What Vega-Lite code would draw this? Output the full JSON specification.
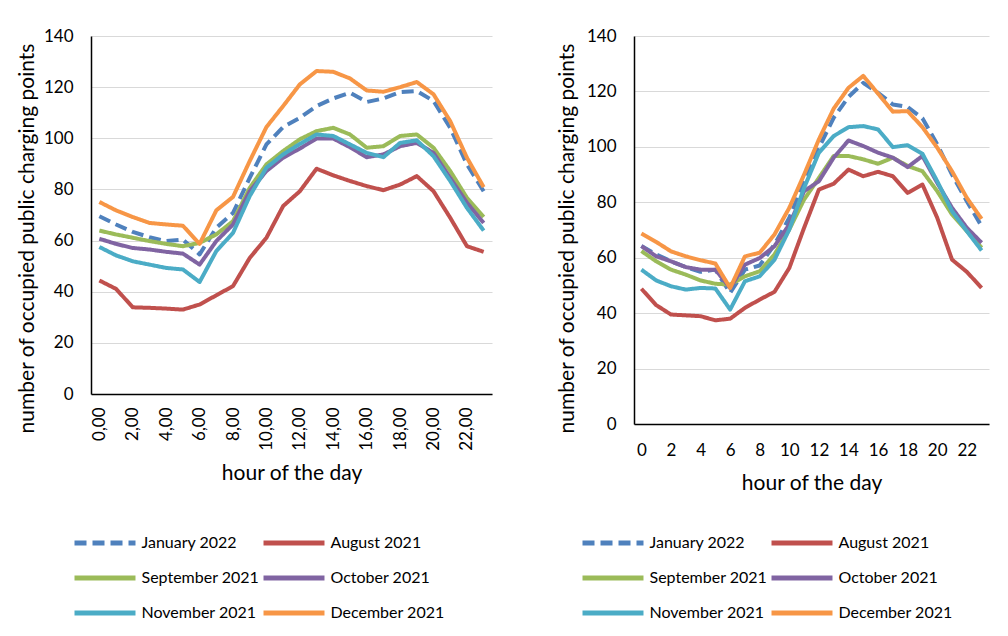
{
"$schema":"https://vega.github.io/schema/vega-lite/v6.json",
"background":"white",
"padding":{"left":16,"top":27,"right":5,"bottom":5},
"config":{"font":"Lato","view":{"stroke":null},
"axis":{"labelFont":"Lato","titleFont":"Lato","labelFontSize":17,"titleFontSize":21,"titleFontWeight":"normal","labelColor":"#000","titleColor":"#000","domainColor":"#000","domainWidth":1.5,"gridColor":"#D9D9D9","gridWidth":1.2,"ticks":false},
"legend":{"labelFont":"Lato","labelFontSize":16,"labelColor":"#000"}},
"datasets":{
"L":[
{"s":"January 2022","h":0,"v":69.5},{"s":"January 2022","h":1,"v":66.3},{"s":"January 2022","h":2,"v":63.4},{"s":"January 2022","h":3,"v":61.3},{"s":"January 2022","h":4,"v":59.8},{"s":"January 2022","h":5,"v":60.4},{"s":"January 2022","h":6,"v":54.6},{"s":"January 2022","h":7,"v":65.0},{"s":"January 2022","h":8,"v":70.8},{"s":"January 2022","h":9,"v":84.5},{"s":"January 2022","h":10,"v":97.6},{"s":"January 2022","h":11,"v":104.4},{"s":"January 2022","h":12,"v":108.0},{"s":"January 2022","h":13,"v":112.6},{"s":"January 2022","h":14,"v":115.6},{"s":"January 2022","h":15,"v":117.8},{"s":"January 2022","h":16,"v":114.2},{"s":"January 2022","h":17,"v":115.6},{"s":"January 2022","h":18,"v":118.1},{"s":"January 2022","h":19,"v":118.5},{"s":"January 2022","h":20,"v":114.6},{"s":"January 2022","h":21,"v":104.1},{"s":"January 2022","h":22,"v":89.8},{"s":"January 2022","h":23,"v":79.3},
{"s":"August 2021","h":0,"v":44.4},{"s":"August 2021","h":1,"v":41.1},{"s":"August 2021","h":2,"v":33.9},{"s":"August 2021","h":3,"v":33.7},{"s":"August 2021","h":4,"v":33.4},{"s":"August 2021","h":5,"v":33.0},{"s":"August 2021","h":6,"v":35.0},{"s":"August 2021","h":7,"v":38.6},{"s":"August 2021","h":8,"v":42.2},{"s":"August 2021","h":9,"v":53.2},{"s":"August 2021","h":10,"v":61.1},{"s":"August 2021","h":11,"v":73.5},{"s":"August 2021","h":12,"v":79.3},{"s":"August 2021","h":13,"v":88.1},{"s":"August 2021","h":14,"v":85.5},{"s":"August 2021","h":15,"v":83.3},{"s":"August 2021","h":16,"v":81.3},{"s":"August 2021","h":17,"v":79.7},{"s":"August 2021","h":18,"v":81.9},{"s":"August 2021","h":19,"v":85.2},{"s":"August 2021","h":20,"v":79.3},{"s":"August 2021","h":21,"v":68.9},{"s":"August 2021","h":22,"v":57.8},{"s":"August 2021","h":23,"v":55.6},
{"s":"September 2021","h":0,"v":63.9},{"s":"September 2021","h":1,"v":62.4},{"s":"September 2021","h":2,"v":61.1},{"s":"September 2021","h":3,"v":59.8},{"s":"September 2021","h":4,"v":58.7},{"s":"September 2021","h":5,"v":57.8},{"s":"September 2021","h":6,"v":59.1},{"s":"September 2021","h":7,"v":62.4},{"s":"September 2021","h":8,"v":67.6},{"s":"September 2021","h":9,"v":80.6},{"s":"September 2021","h":10,"v":89.8},{"s":"September 2021","h":11,"v":95.0},{"s":"September 2021","h":12,"v":99.6},{"s":"September 2021","h":13,"v":102.8},{"s":"September 2021","h":14,"v":104.1},{"s":"September 2021","h":15,"v":101.5},{"s":"September 2021","h":16,"v":96.3},{"s":"September 2021","h":17,"v":96.9},{"s":"September 2021","h":18,"v":100.9},{"s":"September 2021","h":19,"v":101.5},{"s":"September 2021","h":20,"v":96.3},{"s":"September 2021","h":21,"v":87.2},{"s":"September 2021","h":22,"v":76.7},{"s":"September 2021","h":23,"v":69.2},
{"s":"October 2021","h":0,"v":60.7},{"s":"October 2021","h":1,"v":58.7},{"s":"October 2021","h":2,"v":57.1},{"s":"October 2021","h":3,"v":56.5},{"s":"October 2021","h":4,"v":55.6},{"s":"October 2021","h":5,"v":54.9},{"s":"October 2021","h":6,"v":50.6},{"s":"October 2021","h":7,"v":59.8},{"s":"October 2021","h":8,"v":66.3},{"s":"October 2021","h":9,"v":79.3},{"s":"October 2021","h":10,"v":87.2},{"s":"October 2021","h":11,"v":92.4},{"s":"October 2021","h":12,"v":96.0},{"s":"October 2021","h":13,"v":99.9},{"s":"October 2021","h":14,"v":99.9},{"s":"October 2021","h":15,"v":96.5},{"s":"October 2021","h":16,"v":92.6},{"s":"October 2021","h":17,"v":93.7},{"s":"October 2021","h":18,"v":96.9},{"s":"October 2021","h":19,"v":98.2},{"s":"October 2021","h":20,"v":94.3},{"s":"October 2021","h":21,"v":84.5},{"s":"October 2021","h":22,"v":74.8},{"s":"October 2021","h":23,"v":66.9},
{"s":"November 2021","h":0,"v":57.5},{"s":"November 2021","h":1,"v":54.2},{"s":"November 2021","h":2,"v":51.9},{"s":"November 2021","h":3,"v":50.6},{"s":"November 2021","h":4,"v":49.3},{"s":"November 2021","h":5,"v":48.7},{"s":"November 2021","h":6,"v":43.8},{"s":"November 2021","h":7,"v":55.9},{"s":"November 2021","h":8,"v":63.0},{"s":"November 2021","h":9,"v":77.4},{"s":"November 2021","h":10,"v":88.5},{"s":"November 2021","h":11,"v":93.7},{"s":"November 2021","h":12,"v":97.8},{"s":"November 2021","h":13,"v":101.5},{"s":"November 2021","h":14,"v":100.9},{"s":"November 2021","h":15,"v":97.6},{"s":"November 2021","h":16,"v":94.3},{"s":"November 2021","h":17,"v":92.6},{"s":"November 2021","h":18,"v":98.2},{"s":"November 2021","h":19,"v":99.2},{"s":"November 2021","h":20,"v":93.0},{"s":"November 2021","h":21,"v":83.3},{"s":"November 2021","h":22,"v":72.8},{"s":"November 2021","h":23,"v":63.9},
{"s":"December 2021","h":0,"v":75.1},{"s":"December 2021","h":1,"v":71.8},{"s":"December 2021","h":2,"v":69.2},{"s":"December 2021","h":3,"v":66.9},{"s":"December 2021","h":4,"v":66.3},{"s":"December 2021","h":5,"v":65.8},{"s":"December 2021","h":6,"v":58.7},{"s":"December 2021","h":7,"v":71.8},{"s":"December 2021","h":8,"v":77.1},{"s":"December 2021","h":9,"v":91.1},{"s":"December 2021","h":10,"v":104.4},{"s":"December 2021","h":11,"v":112.6},{"s":"December 2021","h":12,"v":121.1},{"s":"December 2021","h":13,"v":126.3},{"s":"December 2021","h":14,"v":126.0},{"s":"December 2021","h":15,"v":123.4},{"s":"December 2021","h":16,"v":118.7},{"s":"December 2021","h":17,"v":118.2},{"s":"December 2021","h":18,"v":120.0},{"s":"December 2021","h":19,"v":122.0},{"s":"December 2021","h":20,"v":117.2},{"s":"December 2021","h":21,"v":106.7},{"s":"December 2021","h":22,"v":92.4},{"s":"December 2021","h":23,"v":80.9}
],
"R":[
{"s":"January 2022","h":0,"v":64.2},{"s":"January 2022","h":1,"v":61.2},{"s":"January 2022","h":2,"v":58.7},{"s":"January 2022","h":3,"v":56.6},{"s":"January 2022","h":4,"v":54.9},{"s":"January 2022","h":5,"v":55.7},{"s":"January 2022","h":6,"v":47.3},{"s":"January 2022","h":7,"v":55.7},{"s":"January 2022","h":8,"v":57.2},{"s":"January 2022","h":9,"v":64.8},{"s":"January 2022","h":10,"v":74.4},{"s":"January 2022","h":11,"v":87.6},{"s":"January 2022","h":12,"v":99.7},{"s":"January 2022","h":13,"v":110.5},{"s":"January 2022","h":14,"v":118.0},{"s":"January 2022","h":15,"v":123.1},{"s":"January 2022","h":16,"v":119.5},{"s":"January 2022","h":17,"v":115.3},{"s":"January 2022","h":18,"v":114.4},{"s":"January 2022","h":19,"v":110.3},{"s":"January 2022","h":20,"v":100.9},{"s":"January 2022","h":21,"v":90.0},{"s":"January 2022","h":22,"v":80.4},{"s":"January 2022","h":23,"v":71.4},
{"s":"August 2021","h":0,"v":48.8},{"s":"August 2021","h":1,"v":42.9},{"s":"August 2021","h":2,"v":39.5},{"s":"August 2021","h":3,"v":39.2},{"s":"August 2021","h":4,"v":38.9},{"s":"August 2021","h":5,"v":37.4},{"s":"August 2021","h":6,"v":38.0},{"s":"August 2021","h":7,"v":41.9},{"s":"August 2021","h":8,"v":44.9},{"s":"August 2021","h":9,"v":47.7},{"s":"August 2021","h":10,"v":56.3},{"s":"August 2021","h":11,"v":70.8},{"s":"August 2021","h":12,"v":84.6},{"s":"August 2021","h":13,"v":86.7},{"s":"August 2021","h":14,"v":91.8},{"s":"August 2021","h":15,"v":89.4},{"s":"August 2021","h":16,"v":91.0},{"s":"August 2021","h":17,"v":89.4},{"s":"August 2021","h":18,"v":83.4},{"s":"August 2021","h":19,"v":86.4},{"s":"August 2021","h":20,"v":74.4},{"s":"August 2021","h":21,"v":59.3},{"s":"August 2021","h":22,"v":54.9},{"s":"August 2021","h":23,"v":49.1},
{"s":"September 2021","h":0,"v":62.4},{"s":"September 2021","h":1,"v":58.7},{"s":"September 2021","h":2,"v":55.7},{"s":"September 2021","h":3,"v":53.9},{"s":"September 2021","h":4,"v":51.8},{"s":"September 2021","h":5,"v":50.6},{"s":"September 2021","h":6,"v":50.3},{"s":"September 2021","h":7,"v":53.3},{"s":"September 2021","h":8,"v":55.1},{"s":"September 2021","h":9,"v":61.2},{"s":"September 2021","h":10,"v":70.2},{"s":"September 2021","h":11,"v":81.0},{"s":"September 2021","h":12,"v":88.8},{"s":"September 2021","h":13,"v":96.7},{"s":"September 2021","h":14,"v":96.7},{"s":"September 2021","h":15,"v":95.5},{"s":"September 2021","h":16,"v":93.9},{"s":"September 2021","h":17,"v":96.1},{"s":"September 2021","h":18,"v":93.1},{"s":"September 2021","h":19,"v":91.2},{"s":"September 2021","h":20,"v":84.0},{"s":"September 2021","h":21,"v":75.6},{"s":"September 2021","h":22,"v":69.6},{"s":"September 2021","h":23,"v":63.6},
{"s":"October 2021","h":0,"v":64.2},{"s":"October 2021","h":1,"v":60.5},{"s":"October 2021","h":2,"v":58.7},{"s":"October 2021","h":3,"v":56.6},{"s":"October 2021","h":4,"v":55.7},{"s":"October 2021","h":5,"v":55.7},{"s":"October 2021","h":6,"v":49.1},{"s":"October 2021","h":7,"v":57.5},{"s":"October 2021","h":8,"v":59.9},{"s":"October 2021","h":9,"v":64.2},{"s":"October 2021","h":10,"v":72.0},{"s":"October 2021","h":11,"v":84.0},{"s":"October 2021","h":12,"v":87.6},{"s":"October 2021","h":13,"v":96.1},{"s":"October 2021","h":14,"v":102.3},{"s":"October 2021","h":15,"v":100.3},{"s":"October 2021","h":16,"v":97.9},{"s":"October 2021","h":17,"v":96.1},{"s":"October 2021","h":18,"v":92.7},{"s":"October 2021","h":19,"v":96.7},{"s":"October 2021","h":20,"v":87.0},{"s":"October 2021","h":21,"v":78.0},{"s":"October 2021","h":22,"v":70.8},{"s":"October 2021","h":23,"v":65.4},
{"s":"November 2021","h":0,"v":55.7},{"s":"November 2021","h":1,"v":51.8},{"s":"November 2021","h":2,"v":49.7},{"s":"November 2021","h":3,"v":48.5},{"s":"November 2021","h":4,"v":49.1},{"s":"November 2021","h":5,"v":48.9},{"s":"November 2021","h":6,"v":41.3},{"s":"November 2021","h":7,"v":51.5},{"s":"November 2021","h":8,"v":53.3},{"s":"November 2021","h":9,"v":59.3},{"s":"November 2021","h":10,"v":70.2},{"s":"November 2021","h":11,"v":85.2},{"s":"November 2021","h":12,"v":97.9},{"s":"November 2021","h":13,"v":103.9},{"s":"November 2021","h":14,"v":107.1},{"s":"November 2021","h":15,"v":107.5},{"s":"November 2021","h":16,"v":106.3},{"s":"November 2021","h":17,"v":99.9},{"s":"November 2021","h":18,"v":100.6},{"s":"November 2021","h":19,"v":97.5},{"s":"November 2021","h":20,"v":87.6},{"s":"November 2021","h":21,"v":76.8},{"s":"November 2021","h":22,"v":69.6},{"s":"November 2021","h":23,"v":62.6},
{"s":"December 2021","h":0,"v":68.7},{"s":"December 2021","h":1,"v":65.7},{"s":"December 2021","h":2,"v":62.3},{"s":"December 2021","h":3,"v":60.5},{"s":"December 2021","h":4,"v":59.1},{"s":"December 2021","h":5,"v":57.9},{"s":"December 2021","h":6,"v":49.1},{"s":"December 2021","h":7,"v":60.5},{"s":"December 2021","h":8,"v":61.8},{"s":"December 2021","h":9,"v":68.4},{"s":"December 2021","h":10,"v":78.0},{"s":"December 2021","h":11,"v":90.0},{"s":"December 2021","h":12,"v":102.7},{"s":"December 2021","h":13,"v":113.8},{"s":"December 2021","h":14,"v":121.3},{"s":"December 2021","h":15,"v":125.6},{"s":"December 2021","h":16,"v":119.2},{"s":"December 2021","h":17,"v":112.7},{"s":"December 2021","h":18,"v":112.9},{"s":"December 2021","h":19,"v":107.1},{"s":"December 2021","h":20,"v":99.7},{"s":"December 2021","h":21,"v":91.2},{"s":"December 2021","h":22,"v":81.6},{"s":"December 2021","h":23,"v":74.0}
]},
"spacing":64,
"resolve":{"scale":{"x":"independent","y":"independent","color":"independent","strokeDash":"independent"},"legend":{"color":"independent","strokeDash":"independent"}},
"hconcat":[
{"width":401,"height":358,"data":{"name":"L"},
"mark":{"type":"line","strokeWidth":4,"strokeJoin":"round"},
"encoding":{
"x":{"field":"h","type":"quantitative","scale":{"domain":[-0.5,23.5],"nice":false,"zero":false},"axis":{"values":[0,2,4,6,8,10,12,14,16,18,20,22],"labelExpr":"replace(format(datum.value,'.2f'),'.',',')","labelAngle":-90,"labelPadding":13,"title":"hour of the day","titlePadding":12,"grid":false}},
"y":{"field":"v","type":"quantitative","scale":{"domain":[0,140],"nice":false},"axis":{"values":[0,20,40,60,80,100,120,140],"title":"number of occupied public charging points","titleY":202,"labelPadding":18,"titlePadding":6}},
"color":{"field":"s","type":"nominal","scale":{"domain":["January 2022","August 2021","September 2021","October 2021","November 2021","December 2021"],"range":["#4F81BD","#C0504D","#9BBB59","#8064A2","#4BACC6","#F79646"]},"legend":{"orient":"none","direction":"horizontal","legendX":-4,"legendY":489,"columns":2,"title":null,"symbolType":"M-2,0H2","symbolSize":930,"symbolStrokeWidth":5,"labelOffset":18.5,"columnPadding":-7,"rowPadding":7}},
"strokeDash":{"field":"s","type":"nominal","scale":{"domain":["January 2022","August 2021","September 2021","October 2021","November 2021","December 2021"],"range":[[12,6],[1,0],[1,0],[1,0],[1,0],[1,0]]},"legend":{"orient":"none","direction":"horizontal","legendX":-4,"legendY":489,"columns":2,"title":null,"symbolType":"M-2,0H2","symbolSize":930,"symbolStrokeWidth":5,"labelOffset":18.5,"columnPadding":-7,"rowPadding":7}}
}},
{"width":355,"height":388,"data":{"name":"R"},
"mark":{"type":"line","strokeWidth":4,"strokeJoin":"round"},
"encoding":{
"x":{"field":"h","type":"quantitative","scale":{"domain":[-0.5,23.5],"nice":false,"zero":false},"axis":{"values":[0,2,4,6,8,10,12,14,16,18,20,22],"labelAngle":0,"labelPadding":18,"title":"hour of the day","titlePadding":14,"grid":false}},
"y":{"field":"v","type":"quantitative","scale":{"domain":[0,140],"nice":false},"axis":{"values":[0,20,40,60,80,100,120,140],"title":"number of occupied public charging points","titleY":202,"labelPadding":18,"titlePadding":9}},
"color":{"field":"s","type":"nominal","scale":{"domain":["January 2022","August 2021","September 2021","October 2021","November 2021","December 2021"],"range":["#4F81BD","#C0504D","#9BBB59","#8064A2","#4BACC6","#F79646"]},"legend":{"orient":"none","direction":"horizontal","legendX":-39,"legendY":489,"columns":2,"title":null,"symbolType":"M-2,0H2","symbolSize":930,"symbolStrokeWidth":5,"labelOffset":18.5,"columnPadding":-7,"rowPadding":7}},
"strokeDash":{"field":"s","type":"nominal","scale":{"domain":["January 2022","August 2021","September 2021","October 2021","November 2021","December 2021"],"range":[[12,6],[1,0],[1,0],[1,0],[1,0],[1,0]]},"legend":{"orient":"none","direction":"horizontal","legendX":-39,"legendY":489,"columns":2,"title":null,"symbolType":"M-2,0H2","symbolSize":930,"symbolStrokeWidth":5,"labelOffset":18.5,"columnPadding":-7,"rowPadding":7}}
}}
]}
